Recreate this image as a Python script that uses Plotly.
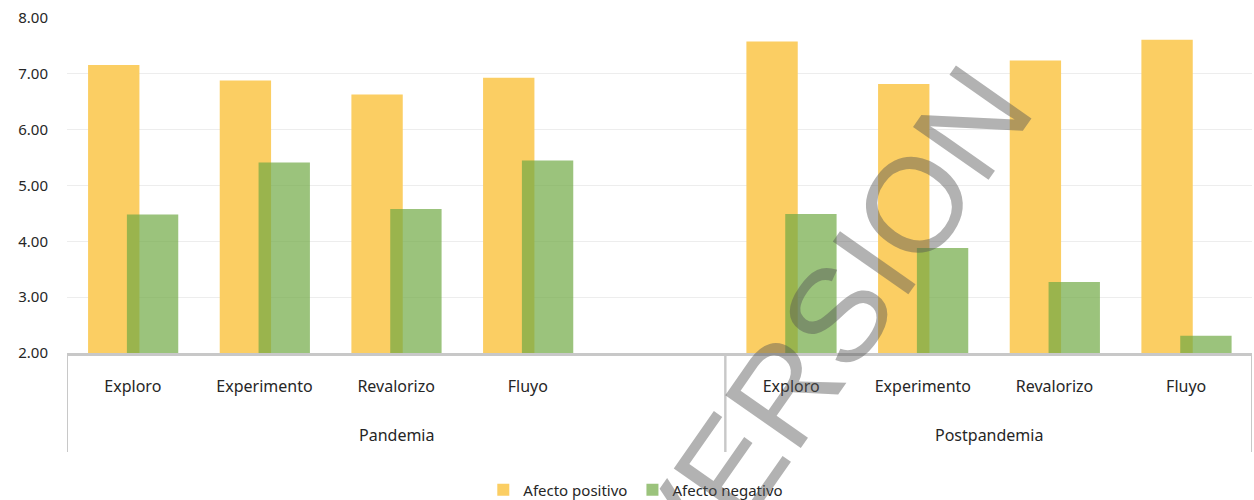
import plotly.graph_objects as go

groups = ["Pandemia"] * 5 + ["Postpandemia"] * 4
subcats = ["Exploro", "Experimento", "Revalorizo", "Fluyo", "",
           "Exploro", "Experimento", "Revalorizo", "Fluyo"]
afecto_positivo = [7.16, 6.88, 6.63, 6.93, None, 7.58, 6.82, 7.24, 7.61]
afecto_negativo = [4.48, 5.41, 4.58, 5.45, None, 4.49, 3.88, 3.27, 2.31]
y_ticks = [2, 3, 4, 5, 6, 7, 8]

FONT = "Noto Sans"
TXT = "#262626"
AXIS = "#C8C8C8"

keys = [f"{g}|{s}|{i}" for i, (g, s) in enumerate(zip(groups, subcats))]

fig = go.Figure()
fig.add_trace(go.Bar(
    x=keys, y=afecto_positivo, name="Afecto positivo",
    marker=dict(color="#FBCE63", line=dict(width=0)),
    offset=-0.34, width=0.39,
))
fig.add_trace(go.Bar(
    x=keys, y=afecto_negativo, name="Afecto negativo",
    marker=dict(color="rgba(112,170,68,0.7)", line=dict(width=0)),
    offset=-0.045, width=0.39,
))

# group labels and dividers from the group list
annotations = []
shapes = []
group_names = list(dict.fromkeys(groups))
div_bottom = -(452 - 353) / 335
for gname in group_names:
    idx = [i for i, g in enumerate(groups) if g == gname]
    annotations.append(dict(
        text=gname, xref="x", yref="paper", x=(idx[0] + idx[-1]) / 2,
        y=-(435 - 353) / 335, xanchor="center", yanchor="middle",
        showarrow=False, font=dict(family=FONT, size=16, color=TXT)))
    for edge in (idx[0] - 0.5, idx[-1] + 0.5):
        shapes.append(dict(type="line", xref="x", yref="paper",
                           x0=edge, x1=edge, y0=0, y1=div_bottom,
                           line=dict(color=AXIS, width=2)))

annotations.append(dict(
    text="VERSION", xref="paper", yref="paper",
    x=(826 - 67) / 1185, y=(353 - 330) / 335,
    xanchor="center", yanchor="middle", showarrow=False,
    textangle=-55,
    font=dict(family="Liberation Sans", size=134, color="rgba(85,85,85,0.45)"),
))

fig.update_layout(
    width=1254, height=500,
    margin=dict(l=67, r=2, t=18, b=147),
    paper_bgcolor="white", plot_bgcolor="white",
    barmode="overlay",
    font=dict(family=FONT, size=15, color=TXT),
    showlegend=True,
    legend=dict(orientation="h", x=0.48, xanchor="center",
                yref="container", y=0.02, yanchor="middle",
                font=dict(size=15, color=TXT),
                itemwidth=30, traceorder="normal"),
    xaxis=dict(type="category", tickvals=keys, ticktext=subcats,
               showline=True, linecolor=AXIS, linewidth=3,
               showgrid=False, ticks="", ticklabelstandoff=17,
               range=[-0.5, len(keys) - 0.5],
               tickfont=dict(size=16, color=TXT)),
    yaxis=dict(range=[2, 8], tickvals=y_ticks, tickformat=".2f",
               showgrid=True, gridcolor="#EDEDED", gridwidth=1,
               zeroline=False, showline=False, ticks="",
               ticklabelstandoff=18,
               tickfont=dict(size=15, color=TXT)),
    annotations=annotations,
    shapes=shapes,
)

fig.write_html("out.html")
